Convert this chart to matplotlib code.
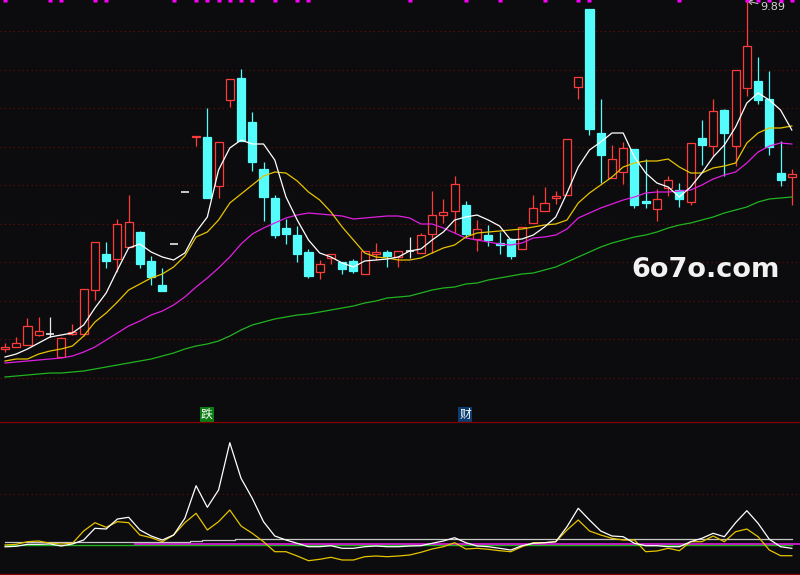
import numpy as np
import matplotlib
matplotlib.use('Agg')
import matplotlib.pyplot as plt

plt.rcParams['font.family'] = ['DejaVu Sans', 'Noto Sans CJK SC']

# ---------------- data ----------------
opens = [6.41, 6.43, 6.45, 6.55, 6.56, 6.33, 6.56, 6.56, 7.00, 7.36,
         7.31, 7.43, 7.58, 7.29, 7.05, 7.46, 7.98, 8.53, 8.53, 8.04,
         8.90, 9.12, 8.68, 8.21, 7.92, 7.62, 7.55, 7.38, 7.18, 7.32,
         7.28, 7.29, 7.16, 7.36, 7.38, 7.33, 7.39, 7.37, 7.56, 7.75,
         7.79, 7.85, 7.51, 7.55, 7.47, 7.51, 7.41, 7.67, 7.79, 7.92,
         7.95, 9.03, 9.81, 8.57, 8.12, 8.18, 8.41, 7.89, 7.81, 8.02,
         8.00, 7.88, 8.52, 8.44, 8.80, 8.44, 9.02, 9.09, 8.91, 8.17,
         8.13]
closes = [6.43, 6.47, 6.64, 6.59, 6.56, 6.52, 6.58, 7.01, 7.48, 7.29,
          7.66, 7.68, 7.26, 7.13, 6.99, 7.46, 7.98, 8.54, 7.92, 8.48,
          9.11, 8.49, 8.28, 7.93, 7.55, 7.56, 7.36, 7.14, 7.26, 7.36,
          7.21, 7.19, 7.39, 7.38, 7.34, 7.39, 7.39, 7.55, 7.75, 7.78,
          8.06, 7.56, 7.61, 7.50, 7.45, 7.34, 7.63, 7.82, 7.87, 7.94,
          8.51, 9.13, 8.61, 8.35, 8.31, 8.42, 7.85, 7.87, 7.91, 8.10,
          7.91, 8.47, 8.45, 8.79, 8.57, 9.20, 9.44, 8.90, 8.43, 8.10,
          8.16]
highs = [6.47, 6.53, 6.72, 6.73, 6.73, 6.53, 6.66, 7.01, 7.48, 7.48,
         7.71, 7.95, 7.59, 7.34, 7.22, 7.46, 7.98, 8.54, 8.82, 8.48,
         9.11, 9.21, 8.78, 8.28, 7.95, 7.71, 7.64, 7.41, 7.30, 7.36,
         7.28, 7.31, 7.39, 7.47, 7.40, 7.39, 7.53, 7.57, 7.99, 7.91,
         8.14, 7.89, 7.70, 7.65, 7.58, 7.52, 7.63, 7.95, 8.03, 7.99,
         8.51, 9.13, 9.81, 8.91, 8.45, 8.48, 8.41, 8.31, 8.01, 8.14,
         8.07, 8.47, 8.70, 8.91, 8.81, 9.20, 9.89, 9.33, 9.19, 8.49,
         8.21]
lows = [6.38, 6.43, 6.45, 6.54, 6.53, 6.33, 6.55, 6.54, 6.90, 7.22,
        7.18, 7.43, 7.22, 7.05, 6.99, 7.46, 7.98, 8.44, 7.92, 7.92,
        8.83, 8.49, 8.19, 7.69, 7.52, 7.46, 7.28, 7.12, 7.11, 7.26,
        7.16, 7.17, 7.16, 7.30, 7.23, 7.23, 7.32, 7.37, 7.37, 7.67,
        7.57, 7.52, 7.39, 7.44, 7.36, 7.31, 7.41, 7.67, 7.79, 7.86,
        7.95, 8.91, 8.55, 8.07, 8.12, 8.06, 7.82, 7.82, 7.69, 7.94,
        7.83, 7.85, 8.25, 8.34, 8.14, 8.24, 8.94, 8.86, 8.35, 8.04,
        7.85]

ma5 = [6.33, 6.36, 6.41, 6.47, 6.53, 6.55, 6.57, 6.65, 6.82, 6.97,
       7.20, 7.42, 7.46, 7.38, 7.33, 7.30, 7.37, 7.58, 7.73, 8.20,
       8.42, 8.50, 8.46, 8.46, 8.30, 7.93, 7.70, 7.50, 7.37, 7.33,
       7.27, 7.23, 7.29, 7.30, 7.31, 7.33, 7.39, 7.41, 7.50, 7.58,
       7.70, 7.73, 7.75, 7.70, 7.64, 7.50, 7.51, 7.55, 7.63, 7.73,
       7.97, 8.23, 8.40, 8.48, 8.57, 8.57, 8.33, 8.17, 8.07, 8.03,
       7.93, 8.03, 8.17, 8.33, 8.45, 8.63, 8.87, 8.97, 8.90, 8.80,
       8.60]
ma10 = [6.29, 6.31, 6.31, 6.36, 6.39, 6.41, 6.44, 6.54, 6.68, 6.77,
        6.88, 7.00, 7.06, 7.12, 7.16, 7.23, 7.34, 7.53, 7.58, 7.70,
        7.87, 7.96, 8.05, 8.14, 8.18, 8.17, 8.09, 7.98, 7.90, 7.78,
        7.63, 7.50, 7.37, 7.33, 7.32, 7.30, 7.30, 7.32, 7.37, 7.42,
        7.45, 7.53, 7.57, 7.58, 7.59, 7.60, 7.61, 7.63, 7.65, 7.66,
        7.70, 7.87, 7.97, 8.05, 8.13, 8.23, 8.27, 8.29, 8.29, 8.31,
        8.23, 8.17, 8.17, 8.22, 8.24, 8.27, 8.47, 8.57, 8.62, 8.62,
        8.64]
ma20 = [6.27, 6.28, 6.29, 6.30, 6.31, 6.32, 6.34, 6.38, 6.43, 6.50,
        6.57, 6.64, 6.69, 6.75, 6.79, 6.85, 6.93, 7.03, 7.12, 7.22,
        7.33, 7.46, 7.56, 7.62, 7.67, 7.72, 7.75, 7.77, 7.76, 7.75,
        7.74, 7.71, 7.72, 7.73, 7.74, 7.74, 7.72, 7.66, 7.66, 7.62,
        7.57, 7.52, 7.50, 7.48, 7.46, 7.45, 7.47, 7.52, 7.53, 7.55,
        7.61, 7.72, 7.77, 7.82, 7.86, 7.90, 7.93, 7.97, 7.98, 7.98,
        7.99, 8.00, 8.05, 8.11, 8.15, 8.18, 8.27, 8.38, 8.44, 8.47,
        8.46]
ma60 = [6.13, 6.14, 6.15, 6.16, 6.17, 6.17, 6.18, 6.19, 6.21, 6.23,
        6.25, 6.27, 6.29, 6.31, 6.34, 6.37, 6.41, 6.44, 6.46, 6.49,
        6.54, 6.60, 6.65, 6.68, 6.71, 6.73, 6.75, 6.76, 6.78, 6.80,
        6.82, 6.84, 6.87, 6.89, 6.92, 6.93, 6.94, 6.97, 7.00, 7.02,
        7.03, 7.06, 7.07, 7.10, 7.12, 7.14, 7.16, 7.17, 7.20, 7.23,
        7.28, 7.33, 7.38, 7.43, 7.47, 7.50, 7.53, 7.55, 7.58, 7.62,
        7.65, 7.67, 7.70, 7.73, 7.77, 7.80, 7.83, 7.88, 7.91, 7.92,
        7.93]

# lower indicator panel
osc_white = [-1.8, -1.3, 0.7, 0.7, 1.0, -1.0, 1.0, 5.0, 16.7, 16.0,
             26.0, 27.7, 15.0, 9.0, 5.0, 10.0, 26.7, 59.3, 37.7, 55.0,
             102.3, 66.7, 46.7, 23.3, 9.0, 5.0, 1.7, -1.7, -1.7, -0.7,
             -3.3, -3.3, -1.7, -1.0, -1.7, -1.7, -1.0, -0.7, 1.7, 4.0,
             7.3, 2.3, -1.0, -1.7, -3.3, -5.0, -0.7, 1.7, 2.3, 3.3,
             18.3, 36.7, 25.0, 14.0, 9.0, 8.3, 1.7, -0.7, -0.7, -1.7,
             -1.7, 3.3, 6.7, 11.7, 8.3, 22.3, 34.3, 21.7, 5.7, -1.7,
             -3.3]
osc_yellow = [0.0, 0.7, 3.3, 4.0, 1.7, 1.0, 1.7, 14.0, 22.3, 17.7,
              23.3, 22.3, 10.0, 7.3, 3.3, 10.0, 22.3, 31.7, 15.0, 23.3,
              35.0, 19.0, 11.7, 3.3, -6.7, -6.7, -11.0, -15.7, -14.3, -12.3,
              -15.0, -15.0, -11.7, -11.0, -11.7, -11.0, -10.0, -7.3, -4.0, -1.7,
              2.3, -4.0, -3.3, -4.3, -5.7, -6.7, -1.7, 2.3, 2.3, 3.3,
              15.0, 25.0, 14.0, 10.0, 6.7, 5.0, 5.0, -6.7, -6.0, -3.3,
              -5.7, 3.3, 3.3, 9.0, 3.3, 13.3, 16.0, 8.3, -5.0, -10.7,
              -10.7]
osc_gray = [2.7] * 17 + [3.7] + [4.7] * 3 + [5.7] * 50
osc_magenta = [np.nan] * 12 + [0.7] * 59
osc_base = [-0.3] * 71

top_marks = [0, 4, 5, 8, 9, 15, 17, 18, 19, 20, 21, 22, 24, 26, 27,
             36, 41, 44, 48, 51, 52, 60, 66, 67, 68, 69, 70]
sig_idx = [18, 41]
sig_text = ['跌', '财']
sig_color = ['#0b7d12', '#0d3d6e']

# ---------------- styling ----------------
BG = '#0c0c0e'
RED = '#ff3c3c'
CYAN = '#54fcfc'
GRID = '#6a0c0c'
SEP = '#840000'

n = len(opens)
x = np.arange(n)
o = np.array(opens); c = np.array(closes)
h = np.array(highs); l = np.array(lows)

fig = plt.figure(figsize=(8, 5.75), dpi=100, facecolor=BG)
ax = fig.add_axes([0, 153 / 575, 1, 422 / 575])
ax2 = fig.add_axes([0, 1 / 575, 1, 152 / 575])
for a in (ax, ax2):
    a.set_facecolor(BG)
    a.set_xticks([]); a.set_yticks([])
    a.set_xlim(-5 / 11.24, 795 / 11.24)
for s in ax.spines.values():
    s.set_visible(False)
for k, s in ax2.spines.items():
    if k in ('top', 'bottom'):
        s.set_color(SEP); s.set_linewidth(0.9)
    else:
        s.set_visible(False)

ax.set_ylim(5.68, 9.90)
ax2.set_ylim(-29, 123)

# dotted grid
for g in np.linspace(9.90 - 0.313, 9.90 - 3.775, 10):
    ax.axhline(g, color=GRID, lw=0.8, ls=(0, (1, 3)), zorder=0)
ax2.axhline(51, color=GRID, lw=0.8, ls=(0, (1, 3)), zorder=0)

# candles
W = 0.72
up = c > o
dn = c < o
eq = c == o
cols = np.where(up, RED, np.where(dn, CYAN, '#e8e8e8'))
ax.vlines(x, l, h, colors=cols, lw=0.9, zorder=2)
ax.bar(x[up], (c - o)[up], bottom=o[up], width=W, facecolor=BG,
       edgecolor=RED, linewidth=0.9, zorder=3)
ax.bar(x[dn], (c - o)[dn], bottom=o[dn], width=W, facecolor=CYAN,
       edgecolor=CYAN, linewidth=0.9, zorder=3)
ax.hlines(o[eq], x[eq] - W / 2, x[eq] + W / 2, colors='#e8e8e8', lw=1.2, zorder=3)

# moving averages
ax.plot(x, ma60, color='#1fb41f', lw=0.9, zorder=4)
ax.plot(x, ma20, color='#e01ee0', lw=0.9, zorder=4)
ax.plot(x, ma10, color='#e6c300', lw=0.9, zorder=4)
ax.plot(x, ma5, color='#ffffff', lw=0.9, zorder=5)

# top magenta marks
ax.plot(top_marks, [9.90] * len(top_marks), 's', ms=2.8, color='#ff00ff',
        mec='none', clip_on=False, zorder=6)

# highest price annotation
hi = int(np.argmax(h))
ax.annotate(f'{h[hi]:.2f}', xy=(x[hi], h[hi]), xytext=(10, -4.5),
            textcoords='offset points', ha='left', va='center',
            fontsize=8, color='#d2d2d2',
            arrowprops=dict(arrowstyle='->', color='#d2d2d2', lw=0.7,
                            shrinkA=0, shrinkB=0))

# signal labels
for i, t, col in zip(sig_idx, sig_text, sig_color):
    ax.text(x[i] - 0.05, 5.755, t, ha='center', va='center', fontsize=8.5,
            color='white', family=['Noto Sans CJK SC', 'DejaVu Sans'],
            bbox=dict(boxstyle='square,pad=0.08', facecolor=col, edgecolor='none'),
            zorder=6)

# watermark
fig.text(631 / 800, 1 - 277 / 575, '6o7o.com', ha='left', va='baseline',
         fontsize=19.5, weight='bold', color='#f2f2f2', family='DejaVu Sans')

# lower panel
ax2.plot(x, osc_base, color='#1fb41f', lw=1.0, zorder=2)
first = int(np.argmax(~np.isnan(np.array(osc_magenta, dtype=float))))
ax2.hlines(osc_magenta[first], x[first] - 0.5, x[-1] + 1, color='#e01ee0', lw=1.2, zorder=3)
ax2.plot(x, osc_gray, color='#c8c8c8', lw=0.9, drawstyle='steps-mid', zorder=3)
ax2.plot(x, osc_yellow, color='#e6c300', lw=0.9, zorder=4)
ax2.plot(x, osc_white, color='#ffffff', lw=0.9, zorder=5)

fig.savefig('out.png', dpi=100, facecolor=BG)
